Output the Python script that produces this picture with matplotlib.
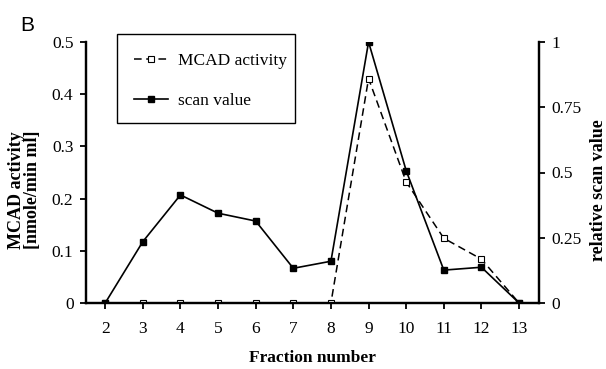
import matplotlib.pyplot as plt
from matplotlib.patches import Rectangle
from matplotlib.ticker import FuncFormatter

# Fraction numbers and the two series
fractions = [2, 3, 4, 5, 6, 7, 8, 9, 10, 11, 12, 13]
mcad_activity = [0, 0, 0, 0, 0, 0, 0, 0.43, 0.232, 0.124, 0.084, 0]
scan_value = [0, 0.235, 0.414, 0.344, 0.314, 0.133, 0.16, 1.0, 0.507, 0.126, 0.137, 0]

left_ticks = [0, 0.1, 0.2, 0.3, 0.4, 0.5]
right_ticks = [0, 0.25, 0.5, 0.75, 1]

SERIF = "Liberation Serif"
W, H = 606, 369
AX_L, AX_B, AX_W, AX_H = 86, 66, 453, 261  # axes box in pixels

fig = plt.figure(figsize=(W / 100, H / 100), dpi=100)
ax = fig.add_axes([AX_L / W, AX_B / H, AX_W / W, AX_H / H])
ax2 = ax.twinx()

ax.plot(fractions, mcad_activity, color="black", linestyle=(0, (5, 3)), linewidth=1.1,
        marker="s", markersize=4.5, markerfacecolor="white", markeredgecolor="black",
        markeredgewidth=0.8, label="MCAD activity", zorder=3)
ax2.plot(fractions, scan_value, color="black", linewidth=1.2,
         marker="s", markersize=4, markerfacecolor="black", markeredgecolor="black",
         label="scan value", zorder=3)

ax.set_xlim(1.49, 13.53)
ax.set_ylim(0, 0.5)
ax2.set_ylim(0, 1)

ax.set_xticks(fractions)
ax.set_yticks(left_ticks)
ax2.set_yticks(right_ticks)

fmt = FuncFormatter(lambda v, p: "0" if v == 0 else f"{v:g}")
ax.yaxis.set_major_formatter(fmt)
ax2.yaxis.set_major_formatter(fmt)

for a in (ax, ax2):
    a.spines["top"].set_visible(False)
    for s in ("left", "right", "bottom"):
        a.spines[s].set_linewidth(1.6)
    a.tick_params(direction="out", length=4, width=1.3, labelsize=12.5, pad=5)
    for lab in a.get_xticklabels() + a.get_yticklabels():
        lab.set_fontfamily(SERIF)
ax.tick_params(axis="x", pad=9)

ax.set_xlabel("Fraction number", fontfamily=SERIF, fontweight="bold", fontsize=12.5,
              labelpad=9)
ax.set_ylabel("MCAD activity\n[nmole/min ml]", fontfamily=SERIF, fontweight="bold",
              fontsize=13, linespacing=0.9)
ax2.set_ylabel("relative scan value", fontfamily=SERIF, fontweight="bold",
               fontsize=13)
ax.yaxis.set_label_coords((41 - AX_L) / AX_W, (303 - 190) / AX_H)
ax2.yaxis.set_label_coords((590 - AX_L) / AX_W, (303 - 190) / AX_H)

# Legend: entries without frame, then a plain box drawn around them
h1, l1 = ax.get_legend_handles_labels()
h2, l2 = ax2.get_legend_handles_labels()
leg = fig.legend(h1 + h2, l1 + l2, loc="center left",
                 bbox_to_anchor=(125 / W, 1 - 81 / H),
                 prop={"family": SERIF, "size": 12.5}, frameon=False,
                 borderpad=0, handlelength=1.95, handletextpad=0.6,
                 labelspacing=1.35)
fig.patches.append(Rectangle((117 / W, 1 - 123 / H), 178 / W, 89 / H,
                             transform=fig.transFigure, fill=False,
                             edgecolor="black", linewidth=1.0))

fig.text(20 / W, 1 - 25.5 / H, "B", fontsize=15, fontfamily="Liberation Sans",
         va="center", ha="left")

fig.savefig("out.png", dpi=100)
